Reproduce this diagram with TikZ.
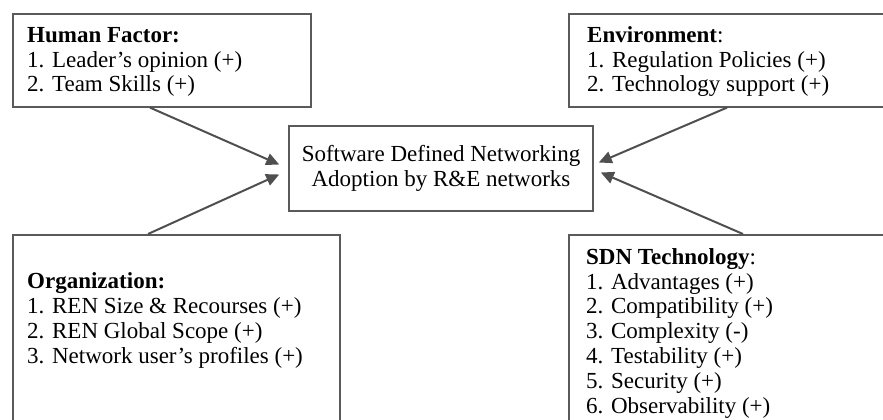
\documentclass[tikz,border=0pt]{standalone}
\usepackage{fontspec}
\setmainfont{Liberation Serif}
\usetikzlibrary{arrows.meta,calc,positioning}
\definecolor{Frame}{HTML}{5A5A5A}
\definecolor{Pointer}{HTML}{4F4F4F}
\tikzset{
  factor/.style={
    draw=Frame, line width=1.6pt, anchor=north west, inner sep=0pt
  },
  core/.style={
    draw=Frame, line width=1.6pt, align=center, inner sep=0pt,
    minimum width=304pt, minimum height=85pt,
    font=\fontsize{23}{25}\selectfont
  },
  items/.style={
    anchor=base west, align=left, inner sep=0pt,
    font=\fontsize{23}{24.8}\selectfont
  },
  influence/.style={-{Triangle[length=13pt,width=12pt]}, line width=2pt, draw=Pointer}
}

\begin{document}
\begin{tikzpicture}[x=1pt,y=-1pt]
        \useasboundingbox (0,0) rectangle (883,420);
        \clip (0,0) rectangle (883,420);
        % factor boxes
        \node[factor,minimum width=298pt,minimum height=93pt] (human) at (12,13) {};
        \node[factor,minimum width=340pt,minimum height=93pt] (env) at (568,13) {};
        \node[factor,minimum width=327pt,minimum height=210pt] (org) at (12,234) {};
        \node[factor,minimum width=340pt,minimum height=210pt] (tech) at (568,234) {};
        \node[core] (sdn) at (441,168.5) {Software Defined Networking\\Adoption by R\&E networks};
        % box texts (base = last line)
        \node[items] (humantxt) at ($(human.north west)+(15,79)$)
          {\textbf{Human Factor:}\\1. Leader’s opinion (+)\\2. Team Skills (+)};
        \node[items] (envtxt) at ($(env.north west)+(19,79)$)
          {\textbf{Environment}:\\1. Regulation Policies (+)\\2. Technology support (+)};
        \node[items] (orgtxt) at ($(org.north west)+(15,129)$)
          {\textbf{Organization:}\\1. REN Size \& Recourses (+)\\2. REN Global Scope (+)\\3. Network user’s profiles (+)};
        \node[items] (techtxt) at ($(tech.north west)+(18,179)$)
          {\textbf{SDN Technology}:\\1. Advantages (+)\\2. Compatibility (+)\\3. Complexity (-)\\4. Testability (+)\\5. Security (+)\\6. Observability (+)};
        % influences
        \draw[influence] ($(human.south west)+(138,0)$)--($(sdn.west)+(-9,-4)$);
        \draw[influence] ($(org.north west)+(136,0)$)--($(sdn.west)+(-9,6)$);
        \draw[influence] ($(env.south west)+(159,0)$)--($(sdn.east)+(5,-6)$);
        \draw[influence] ($(tech.north west)+(175,0)$)--($(sdn.east)+(7,4)$);
      \end{tikzpicture}
\end{document}
